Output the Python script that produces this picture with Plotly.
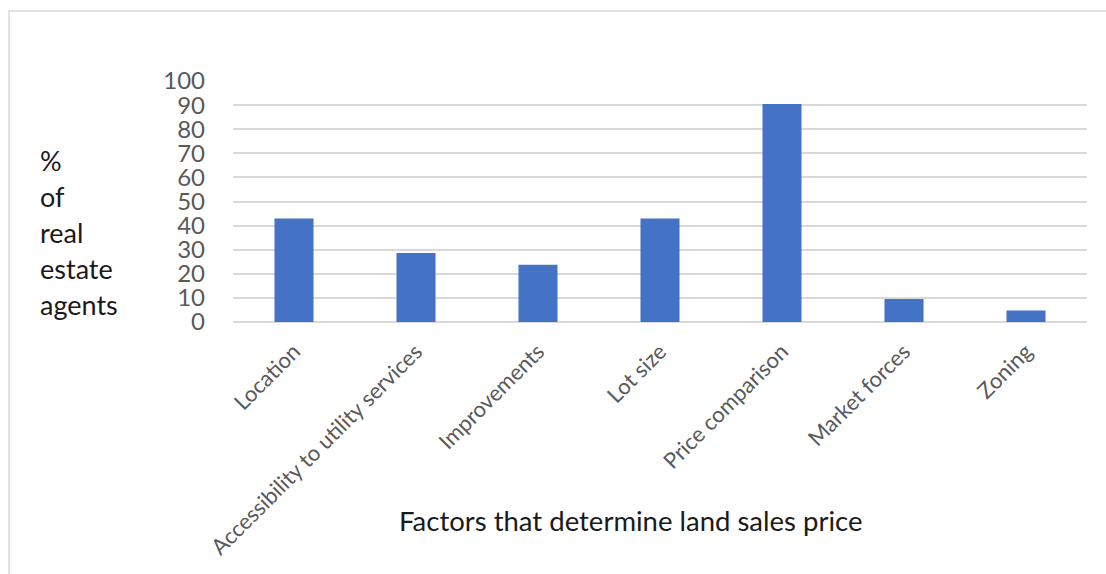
import plotly.graph_objects as go

# Survey results: share of real estate agents citing each factor
factors = [
    "Location",
    "Accessibility to utility services",
    "Improvements",
    "Lot size",
    "Price comparison",
    "Market forces",
    "Zoning",
]
pct_agents = [42.9, 28.6, 23.8, 42.9, 90.5, 9.5, 4.8]

y_ticks = list(range(0, 101, 10))
y_title_lines = ["%", "of", "real", "estate", "agents"]
x_title = "Factors that determine land sales price"

W, H = 1106, 574
L, R, T, B = 233, 19, 81, 252
plot_w = W - L - R
plot_h = H - T - B


def px_x(px):
    return (px - L) / plot_w


def px_y(py):
    return (H - B - py) / plot_h


FONT = "Lato, 'Open Sans', sans-serif"

fig = go.Figure(
    go.Bar(
        x=factors,
        y=pct_agents,
        marker=dict(color="#4472C4", line=dict(width=0)),
        hoverinfo="x+y",
    )
)

fig.update_layout(
    width=W,
    height=H,
    margin=dict(l=L, r=R, t=T, b=B, autoexpand=False),
    paper_bgcolor="white",
    plot_bgcolor="white",
    bargap=0.68,
    showlegend=False,
    font=dict(family=FONT, color="#595959"),
    xaxis=dict(
        tickangle=-45,
        tickfont=dict(size=22, color="#595959", family=FONT),
        showgrid=False,
        showline=False,
        # invisible ticks push the slanted labels a little below the axis
        ticks="outside",
        ticklen=7,
        tickcolor="rgba(0,0,0,0)",
        automargin=False,
    ),
    yaxis=dict(
        range=[0, 100],
        tickvals=y_ticks,
        tickfont=dict(size=24, color="#595959", family=FONT),
        showgrid=True,
        gridcolor="#d9d9d9",
        gridwidth=1.5,
        zeroline=True,
        zerolinecolor="#d9d9d9",
        zerolinewidth=1.5,
        ticks="",
        ticklabelstandoff=27,
        automargin=False,
    ),
)

# Outer frame of the chart area
fig.add_shape(
    type="rect",
    xref="paper",
    yref="paper",
    x0=px_x(9),
    x1=px_x(1112),
    y0=px_y(590),
    y1=px_y(11),
    line=dict(color="#d9d9d9", width=1.5),
    fillcolor="rgba(0,0,0,0)",
    layer="below",
)

# Stacked vertical axis title on the left
for i, word in enumerate(y_title_lines):
    fig.add_annotation(
        text=word,
        xref="paper",
        yref="paper",
        x=px_x(38),
        y=px_y(160 + 36 * i),
        xanchor="left",
        yanchor="middle",
        showarrow=False,
        font=dict(size=27, color="#1a1a1a", family=FONT),
    )

# Horizontal axis title
fig.add_annotation(
    text=x_title,
    xref="paper",
    yref="paper",
    x=px_x(630),
    y=px_y(520),
    xanchor="center",
    yanchor="middle",
    showarrow=False,
    font=dict(size=27.5, color="#1a1a1a", family=FONT),
)

fig.write_html("out.html")
